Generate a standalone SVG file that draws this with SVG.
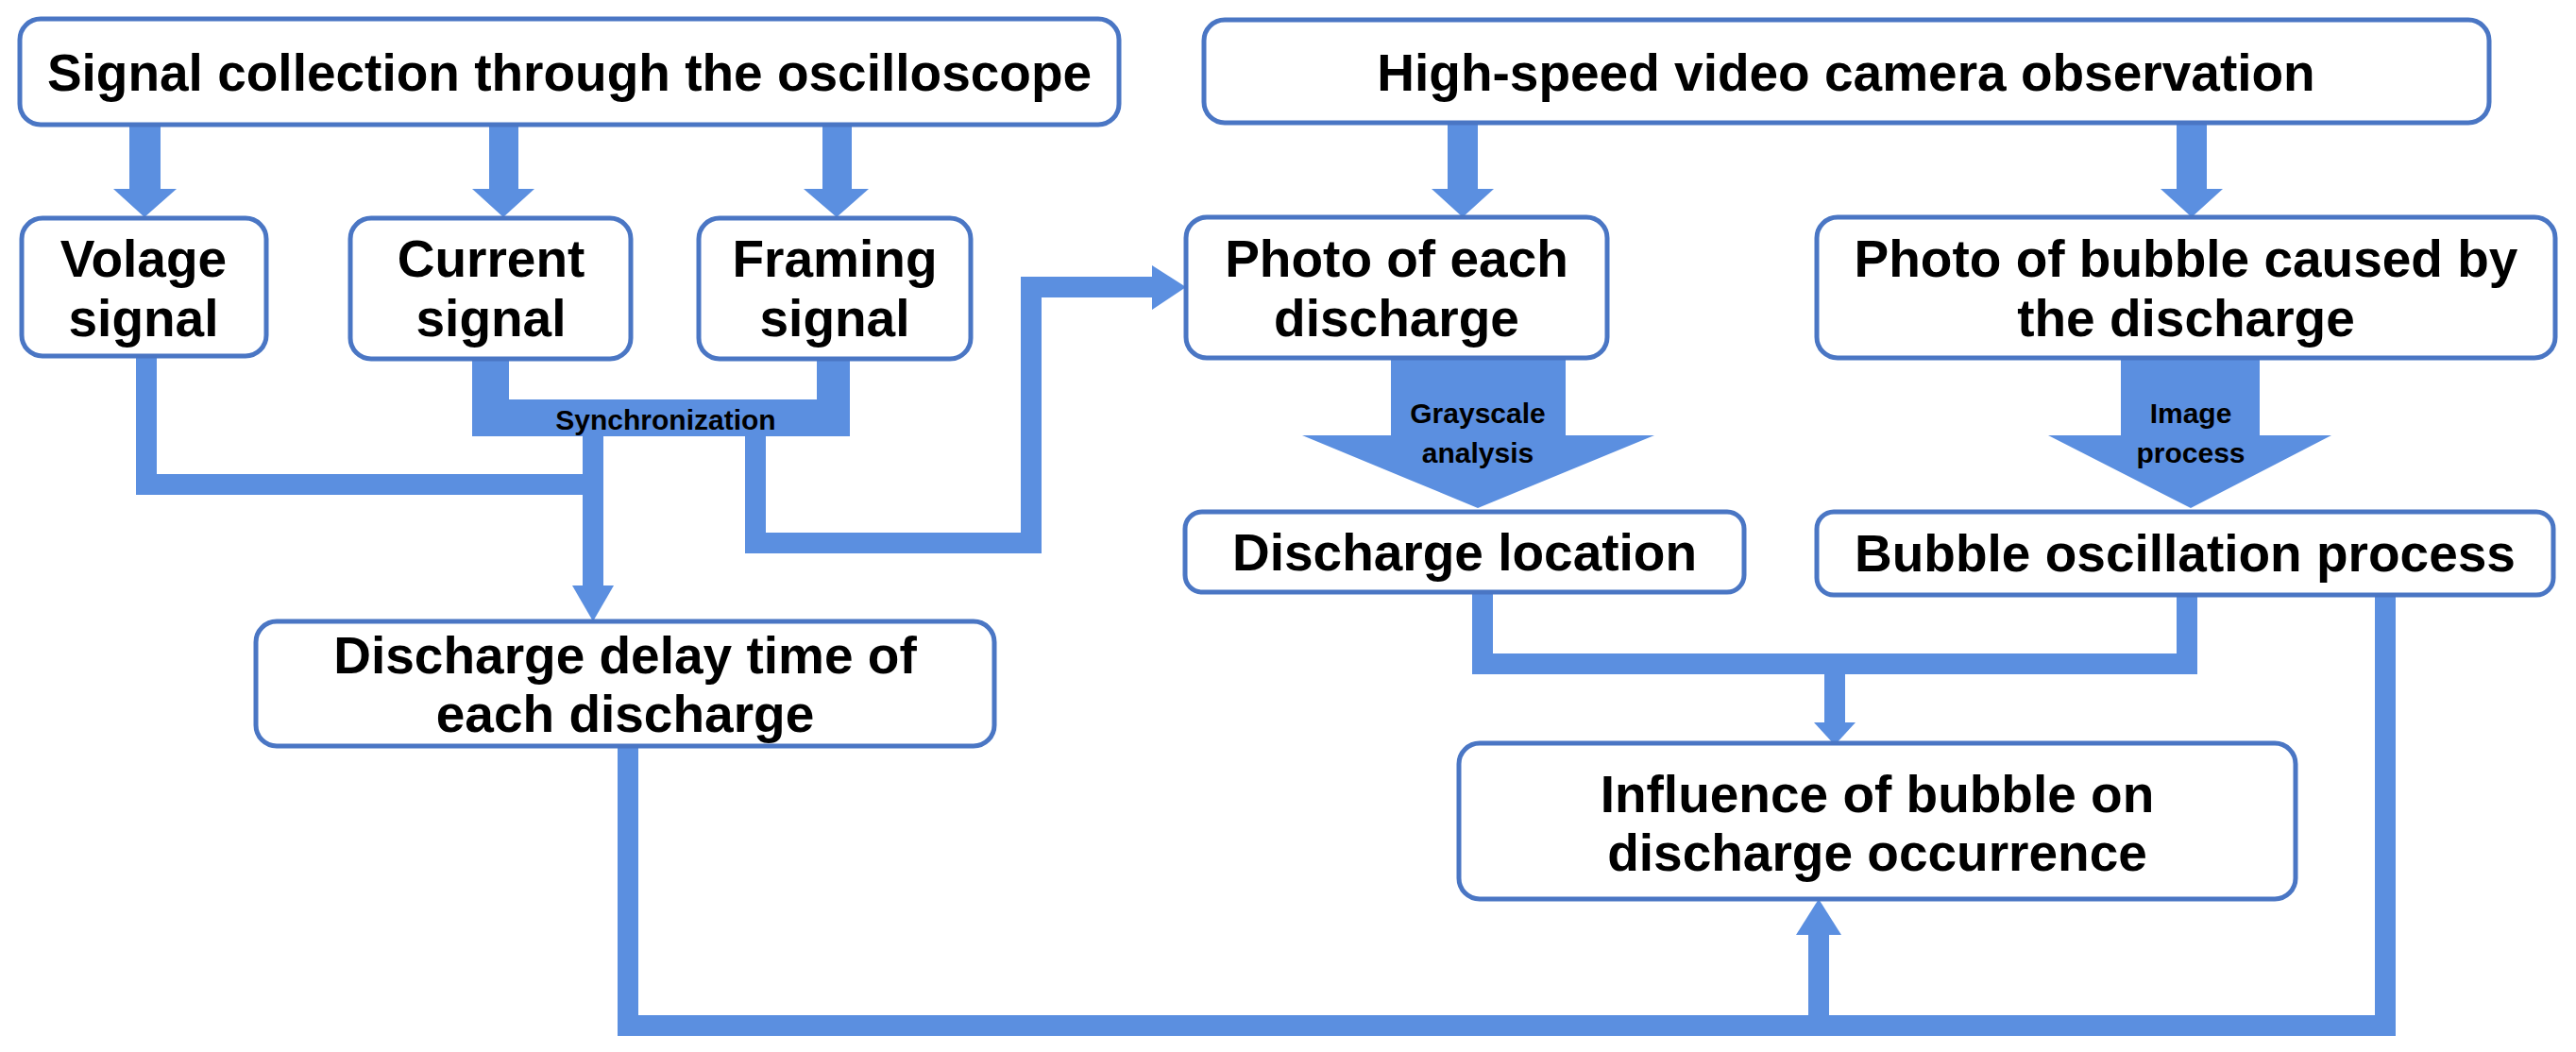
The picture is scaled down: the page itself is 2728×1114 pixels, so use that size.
<svg xmlns="http://www.w3.org/2000/svg" width="2728" height="1114" viewBox="0 0 2728 1114">
<style>
.b{fill:#fff;stroke:#4a76c4;stroke-width:5}
.t{font-family:"Liberation Sans",Arial,sans-serif;font-weight:bold;font-size:55px;fill:#000;text-anchor:middle}
.s{font-family:"Liberation Sans",Arial,sans-serif;font-weight:bold;font-size:30px;fill:#000;text-anchor:middle}
.c{fill:#5b8fe0;stroke:none}
.l{fill:none;stroke:#5b8fe0;stroke-width:22}
</style>
<rect width="2728" height="1114" fill="#fff"/>
<g id="connectors">
<polygon class="c" points="137,132 170,132 170,200 187,200 153,230 120,200 137,200"/>
<polygon class="c" points="518,132 549,132 549,200 566,200 533,230 500,200 518,200"/>
<polygon class="c" points="871,132 902,132 902,200 920,200 886,230 851,200 871,200"/>
<polygon class="c" points="1533,130 1565,130 1565,200 1582,200 1549,230 1516,200 1533,200"/>
<polygon class="c" points="2305,130 2337,130 2337,200 2354,200 2321,230 2288,200 2305,200"/>
<polygon class="c" points="500,378 539,378 539,423 865,423 865,378 900,378 900,462 500,462"/>
<text class="s" x="705" y="455">Synchronization</text>
<polyline class="l" points="155,378 155,513 628,513"/>
<line class="l" x1="628" y1="462" x2="628" y2="625"/>
<polygon class="c" points="606,620 650,620 628,658"/>
<polyline class="l" points="800,462 800,575 1092,575 1092,304 1225,304"/>
<polygon class="c" points="1220,281 1256,304 1220,328"/>
<polygon class="c" points="1473,380 1658,380 1658,461 1752,461 1565,538 1379,461 1473,461"/>
<text class="s" x="1565" y="448">Grayscale</text>
<text class="s" x="1565" y="490">analysis</text>
<polygon class="c" points="2246,380 2393,380 2393,461 2469,461 2320,538 2169,461 2246,461"/>
<text class="s" x="2320" y="448">Image</text>
<text class="s" x="2320" y="490">process</text>
<polyline class="l" points="1570,627 1570,703 2316,703 2316,630"/>
<line class="l" x1="1943" y1="703" x2="1943" y2="770"/>
<polygon class="c" points="1921,765 1965,765 1943,789"/>
<polyline class="l" points="665,790 665,1086 2526,1086 2526,630"/>
<line class="l" x1="1926" y1="1086" x2="1926" y2="985"/>
<polygon class="c" points="1902,990 1950,990 1926,952"/>
</g>
<g id="n1"><rect class="b" x="21" y="20" width="1164" height="112" rx="22"/><text class="t" x="603" y="96">Signal collection through the oscilloscope</text></g>
<g id="n2"><rect class="b" x="1275" y="21" width="1361" height="109" rx="22"/><text class="t" x="1955" y="96">High-speed video camera observation</text></g>
<g id="n3"><rect class="b" x="23" y="231" width="259" height="146" rx="22"/><text class="t" x="152" y="293">Volage</text><text class="t" x="152" y="356">signal</text></g>
<g id="n4"><rect class="b" x="371" y="231" width="297" height="149" rx="22"/><text class="t" x="520" y="293">Current</text><text class="t" x="520" y="356">signal</text></g>
<g id="n5"><rect class="b" x="740" y="231" width="288" height="149" rx="22"/><text class="t" x="884" y="293">Framing</text><text class="t" x="884" y="356">signal</text></g>
<g id="n6"><rect class="b" x="1256" y="230" width="446" height="149" rx="22"/><text class="t" x="1479" y="293">Photo of each</text><text class="t" x="1479" y="356">discharge</text></g>
<g id="n7"><rect class="b" x="1924" y="230" width="782" height="149" rx="22"/><text class="t" x="2315" y="293">Photo of bubble caused by</text><text class="t" x="2315" y="356">the discharge</text></g>
<g id="n8"><rect class="b" x="1255" y="542" width="592" height="85" rx="18"/><text class="t" x="1551" y="604">Discharge location</text></g>
<g id="n9"><rect class="b" x="1924" y="542" width="780" height="88" rx="18"/><text class="t" x="2314" y="605">Bubble oscillation process</text></g>
<g id="n10"><rect class="b" x="271" y="658" width="782" height="132" rx="22"/><text class="t" x="662" y="713">Discharge delay time of</text><text class="t" x="662" y="775">each discharge</text></g>
<g id="n11"><rect class="b" x="1545" y="787" width="886" height="165" rx="22"/><text class="t" x="1988" y="860">Influence of bubble on</text><text class="t" x="1988" y="922">discharge occurrence</text></g>
</svg>
